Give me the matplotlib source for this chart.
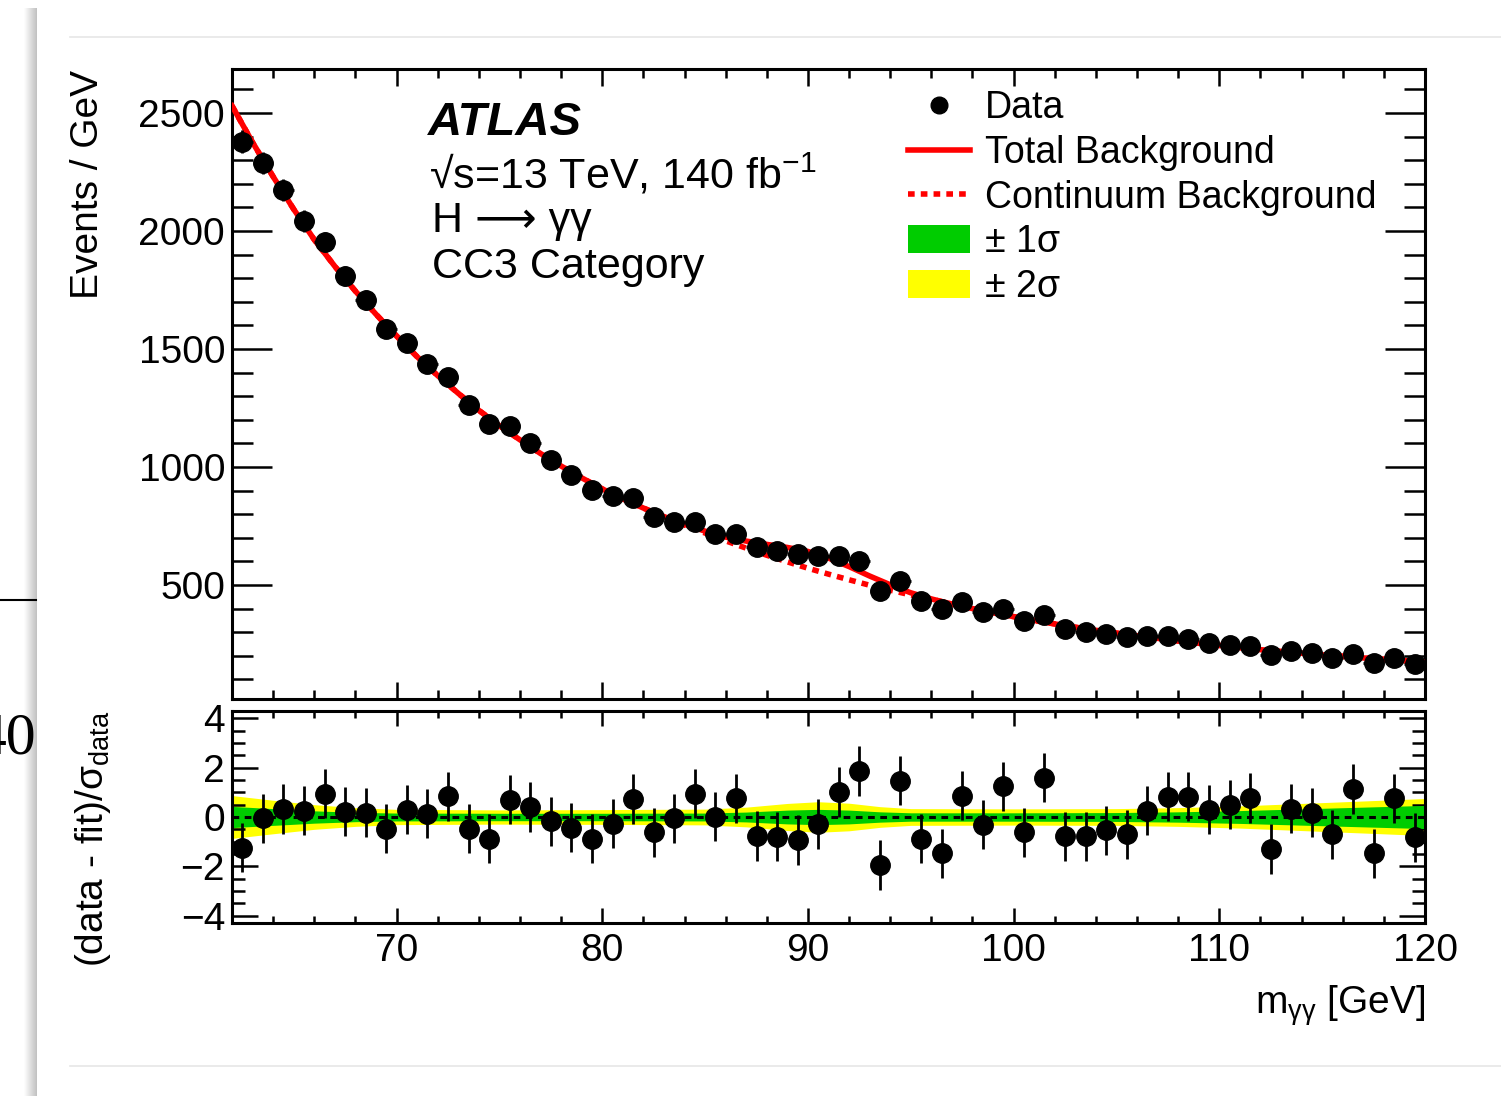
import matplotlib
matplotlib.use('Agg')
import matplotlib.pyplot as plt
import numpy as np
from matplotlib.lines import Line2D
from matplotlib.patches import Patch, Rectangle
from matplotlib.ticker import MultipleLocator

plt.rcParams['font.family'] = ['Liberation Sans', 'DejaVu Sans']
plt.rcParams['mathtext.fontset'] = 'custom'
plt.rcParams['mathtext.rm'] = 'Liberation Sans'
plt.rcParams['mathtext.it'] = 'Liberation Sans:italic'
plt.rcParams['mathtext.bf'] = 'Liberation Sans:bold'
plt.rcParams['mathtext.sf'] = 'Liberation Sans'

GREEN = '#00cc00'
YELLOW = '#ffff00'
RED = '#ff0000'

# ---------------------------------------------------------------- data
# 1 GeV bins from 62 to 120 GeV
bin_centers = np.arange(62.5, 120.0, 1.0)

events = [2377, 2288, 2174, 2042, 1953, 1809, 1708, 1585, 1525, 1436,
          1381, 1263, 1180, 1172, 1102, 1028, 964, 904, 877, 868,
          789, 768, 765, 716, 714, 662, 645, 630, 623, 624,
          603, 476, 518, 433, 400, 428, 386, 398, 347, 373,
          314, 301, 292, 280, 284, 284, 271, 254, 246, 242,
          203, 220, 212, 191, 208, 169, 191, 165]

# (data - fit) / sigma_data
pulls = [-1.24, -0.06, 0.33, 0.26, 0.94, 0.22, 0.17, -0.47, 0.30, 0.14,
         0.84, -0.47, -0.88, 0.70, 0.41, -0.17, -0.43, -0.88, -0.27, 0.73,
         -0.62, -0.06, 0.94, 0.02, 0.76, -0.77, -0.80, -0.93, -0.29, 1.02,
         1.87, -1.95, 1.47, -0.88, -1.48, 0.86, -0.31, 1.24, -0.62, 1.59,
         -0.78, -0.78, -0.54, -0.70, 0.26, 0.82, 0.82, 0.30, 0.50, 0.77,
         -1.30, 0.34, 0.18, -0.70, 1.14, -1.47, 0.76, -0.82]

# background fit curves, sampled every GeV from 62 to 120
fit_x = np.arange(62, 121)
bkg_total = [2530, 2375, 2230, 2092, 1963, 1850, 1745, 1647, 1555, 1467,
             1387, 1312, 1240, 1175, 1115, 1057, 1004, 954, 907, 865,
             826, 790, 757, 728, 703, 686, 672, 659, 642, 614,
             578, 538, 501, 467, 441, 419, 400, 382, 366, 350,
             335, 321, 308, 296, 285, 274, 263, 253, 244, 235,
             226, 218, 211, 204, 198, 191, 185, 179, 173]
bkg_cont = [2530, 2375, 2230, 2092, 1963, 1850, 1745, 1647, 1555, 1467,
            1387, 1312, 1240, 1175, 1115, 1057, 1004, 954, 907, 865,
            826, 788, 754, 720, 687, 656, 626, 598, 571, 546,
            522, 499, 478, 458, 440, 419, 400, 382, 366, 350,
            335, 321, 308, 296, 285, 274, 263, 253, 244, 235,
            226, 218, 211, 204, 198, 191, 185, 179, 173]

# fit uncertainty bands in the pull panel (half widths)
band_x = [62, 64, 66, 68, 70, 75, 80, 85, 87, 89, 90.5, 92, 93.5, 95,
          100, 105, 108, 111, 114, 117, 120]
band_2sig = [0.87, 0.68, 0.50, 0.38, 0.31, 0.29, 0.30, 0.32, 0.40, 0.55, 0.62,
             0.56, 0.42, 0.34, 0.33, 0.34, 0.38, 0.45, 0.55, 0.65, 0.75]
band_1sig = [0.43, 0.34, 0.25, 0.19, 0.16, 0.15, 0.15, 0.16, 0.20, 0.28, 0.31,
             0.28, 0.21, 0.17, 0.17, 0.18, 0.21, 0.26, 0.33, 0.40, 0.47]

# ---------------------------------------------------------------- figure
W, H = 1501, 1096
fig = plt.figure(figsize=(W / 100, H / 100), dpi=100)

# bits of the page the plot was screenshotted from
for i, g in enumerate(np.linspace(0.99, 0.76, 13)):
    fig.add_artist(Rectangle(((24 + i) / W, 0), 1 / W, 1 - 8 / H,
                             transform=fig.transFigure, facecolor=str(g),
                             edgecolor='none', zorder=1))
fig.add_artist(Line2D([0, 36 / W], [1 - 600 / H] * 2, transform=fig.transFigure,
                      color='black', lw=1.5, zorder=3))
fig.text(37 / W, 1 - 740 / H, '40', ha='right', va='center', fontsize=43,
         family='Liberation Serif', zorder=3)
for yy in (37, 1066):
    fig.add_artist(Line2D([70 / W, 1], [1 - yy / H] * 2, transform=fig.transFigure,
                          color='#e6e6e6', lw=1.2, zorder=1))

ax = fig.add_axes([232 / W, 1 - 699 / H, 1193 / W, 630 / H])
ax2 = fig.add_axes([232 / W, 1 - 923 / H, 1193 / W, 212 / H])

# ---------------------------------------------------------------- main panel
ax.plot(fit_x, bkg_cont, color=RED, lw=4, ls=(0, (1.2, 1.1)), zorder=2)
ax.plot(fit_x, bkg_total, color=RED, lw=4, zorder=3)
ax.errorbar(bin_centers, events, yerr=np.sqrt(events), xerr=0.5, fmt='o',
            color='black', ms=14, elinewidth=2, capsize=0, zorder=4)

ax.set_xlim(62, 120)
ax.set_ylim(17, 2686)
ax.xaxis.set_major_locator(MultipleLocator(10))
ax.xaxis.set_minor_locator(MultipleLocator(2))
ax.yaxis.set_major_locator(MultipleLocator(500))
ax.yaxis.set_minor_locator(MultipleLocator(100))
ax.tick_params(which='both', direction='in', top=True, right=True, labelbottom=False,
               width=1.8, labelsize=28, pad=5)
ax.tick_params(axis='y', which='major', length=29)
ax.tick_params(axis='y', which='minor', length=15)
ax.tick_params(axis='x', which='major', length=12)
ax.tick_params(axis='x', which='minor', length=6.5)
for s in ax.spines.values():
    s.set_linewidth(2.2)

ax.text(-0.121, 0.998, 'Events / GeV', transform=ax.transAxes, rotation=90,
        ha='center', va='top', fontsize=28)

ax.text(0.1643, 0.8952, 'ATLAS', transform=ax.transAxes, fontsize=34,
        fontweight='bold', fontstyle='italic', ha='left', va='baseline')
ax.text(0.1655, 0.8111, '\u221As=13 TeV, 140 fb$^{\\mathrm{-1}}$',
        transform=ax.transAxes, fontsize=31, ha='left', va='baseline')
ax.text(0.1675, 0.7413, 'H \u27f6 \u03b3\u03b3', transform=ax.transAxes,
        fontsize=31, ha='left', va='baseline')
ax.text(0.1675, 0.6683, 'CC3 Category', transform=ax.transAxes,
        fontsize=31, ha='left', va='baseline')

handles = [
    Line2D([], [], marker='o', color='black', ls='none', ms=12),
    Line2D([], [], color=RED, lw=4),
    Line2D([], [], color=RED, lw=4, ls=(0, (1.2, 1.1))),
    Patch(facecolor=GREEN, edgecolor='none'),
    Patch(facecolor=YELLOW, edgecolor='none'),
]
labels = ['Data', 'Total Background', 'Continuum Background', '\u00b1 1\u03c3', '\u00b1 2\u03c3']
ax.legend(handles, labels, loc='upper left', bbox_to_anchor=(0.5667, 0.966),
          frameon=False, fontsize=27, borderpad=0, borderaxespad=0,
          handlelength=1.65, handleheight=0.75, handletextpad=0.4, labelspacing=0.23)

# ---------------------------------------------------------------- pull panel
ax2.fill_between(band_x, [-v for v in band_2sig], band_2sig, color=YELLOW, lw=0, zorder=1)
ax2.fill_between(band_x, [-v for v in band_1sig], band_1sig, color=GREEN, lw=0, zorder=2)
ax2.axhline(0, color='black', lw=2.2, ls=(0, (2.2, 1.8)), zorder=3)
ax2.errorbar(bin_centers, pulls, yerr=1.0, fmt='o', color='black', ms=14,
             elinewidth=2, capsize=0, zorder=4)

ax2.set_xlim(62, 120)
ax2.set_ylim(-4.3, 4.3)
ax2.xaxis.set_major_locator(MultipleLocator(10))
ax2.xaxis.set_minor_locator(MultipleLocator(2))
ax2.yaxis.set_major_locator(MultipleLocator(2))
ax2.yaxis.set_minor_locator(MultipleLocator(0.5))
ax2.tick_params(which='both', direction='in', top=True, right=True,
                width=1.8, labelsize=28)
ax2.tick_params(axis='y', which='major', length=19, pad=5)
ax2.tick_params(axis='y', which='minor', length=9.5)
ax2.tick_params(axis='x', which='major', length=11, pad=7)
ax2.tick_params(axis='x', which='minor', length=5)
for s in ax2.spines.values():
    s.set_linewidth(2.2)

ax2.text(-0.1165, 1.0, '(data - fit)/\u03c3$_{\\mathrm{data}}$', transform=ax2.transAxes,
         rotation=90, ha='center', va='top', fontsize=28)
ax2.text(1.0, -0.283, 'm$_{\\mathrm{\u03b3\u03b3}}$ [GeV]', transform=ax2.transAxes,
         ha='right', va='top', fontsize=28)

fig.savefig('out.png', dpi=100, facecolor='white')
